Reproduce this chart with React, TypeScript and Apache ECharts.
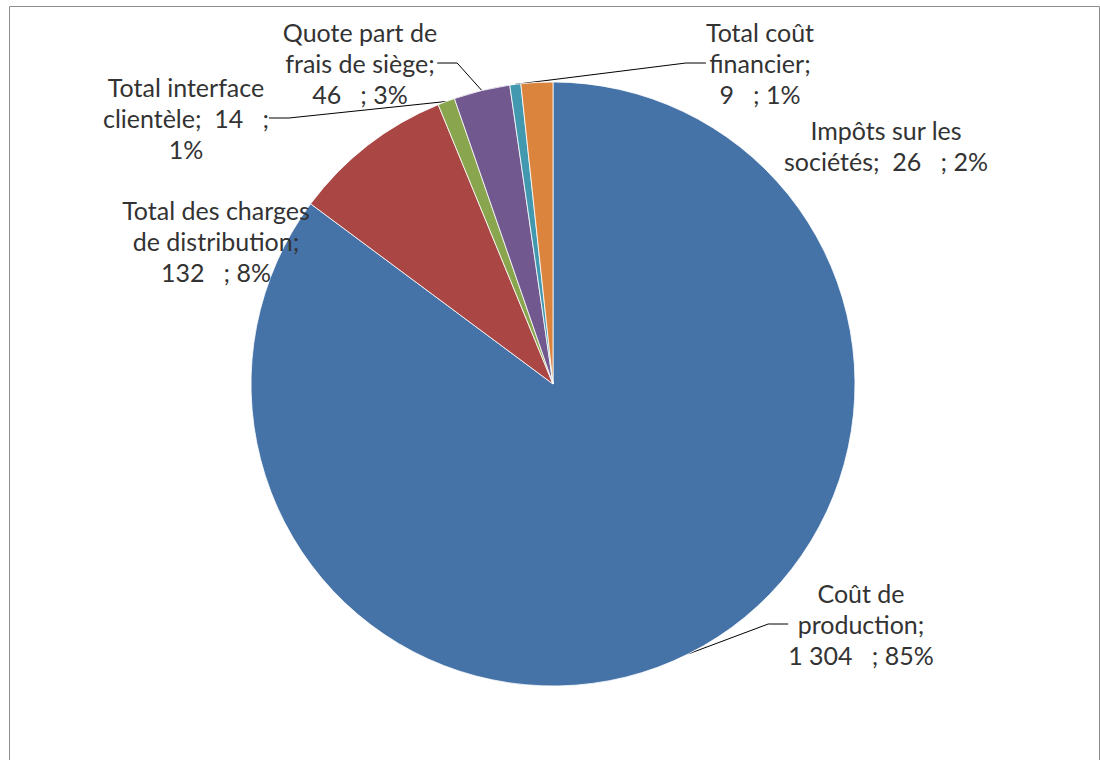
import React, { useEffect, useRef } from "react";
import * as echarts from "echarts";

const categories = [
  "Coût de production",
  "Total des charges de distribution",
  "Total interface clientèle",
  "Quote part de frais de siège",
  "Total coût financier",
  "Impôts sur les sociétés",
];
const values = [1304, 132, 14, 46, 9, 26];
const percentLabels = [85, 8, 1, 3, 1, 2];
const colors = ["#4572A7", "#AA4643", "#89A54E", "#71588F", "#4198AF", "#DB843D"];
const showLeader = [true, false, true, true, true, false];
// Line breaks of each label as in the picture ({v} = value, {p} = percent)
const labelTemplates = [
  "Coût de\nproduction;\n{v}   ; {p}%",
  "Total des charges\nde distribution;\n{v}   ; {p}%",
  "Total interface\nclientèle;  {v}   ;\n{p}%",
  "Quote part de\nfrais de siège;\n{v}   ; {p}%",
  "Total coût\nfinancier;\n{v}   ; {p}%",
  "Impôts sur les\nsociétés;  {v}   ; {p}%",
];
// label centre positions (layout)
const labelPos: [number, number][] = [
  [861, 624],
  [216, 241],
  [186, 118],
  [360, 63],
  [760, 63],
  [886, 145],
];

function fmt(v: number): string {
  return String(v).replace(/\B(?=(\d{3})+(?!\d))/g, " ");
}

export default function App() {
  const ref = useRef<HTMLDivElement>(null);
  useEffect(() => {
    document.body.style.margin = "0";
    const chart = echarts.init(ref.current!, null, { renderer: "svg" });
    chart.setOption({
      animation: false,
      backgroundColor: "#ffffff",
      graphic: [
        {
          type: "rect",
          shape: { x: 9.5, y: 6.5, width: 1090, height: 800 },
          style: { fill: "none", stroke: "#8c8c8c", lineWidth: 1 },
          silent: true,
        },
      ],
      series: [
        {
          type: "pie",
          center: [553, 384],
          radius: 302,
          startAngle: 90,
          clockwise: true,
          avoidLabelOverlap: false,
          itemStyle: { borderColor: "#ffffff", borderWidth: 0.8 },
          label: {
            show: true,
            position: "outside",
            fontFamily: "Lato, 'Liberation Sans', sans-serif",
            fontSize: 25,
            lineHeight: 31,
            color: "#333333",
            align: "center",
            formatter: (p: any) =>
              labelTemplates[p.dataIndex]
                .replace("{v}", fmt(values[p.dataIndex]))
                .replace("{p}", String(percentLabels[p.dataIndex])),
          },
          labelLine: {
            show: true,
            length: 20,
            length2: 20,
            lineStyle: { color: "#000000", width: 1 },
          },
          labelLayout: (params: any) => {
            const [x, y] = labelPos[params.dataIndex];
            return { x, y, align: "center", verticalAlign: "middle" };
          },
          data: categories.map((name, i) => ({
            name,
            value: values[i],
            itemStyle: { color: colors[i] },
            labelLine: { show: showLeader[i] },
          })),
        },
      ],
    });
    return () => chart.dispose();
  }, []);
  return <div ref={ref} style={{ width: 1100, height: 760 }} />;
}
